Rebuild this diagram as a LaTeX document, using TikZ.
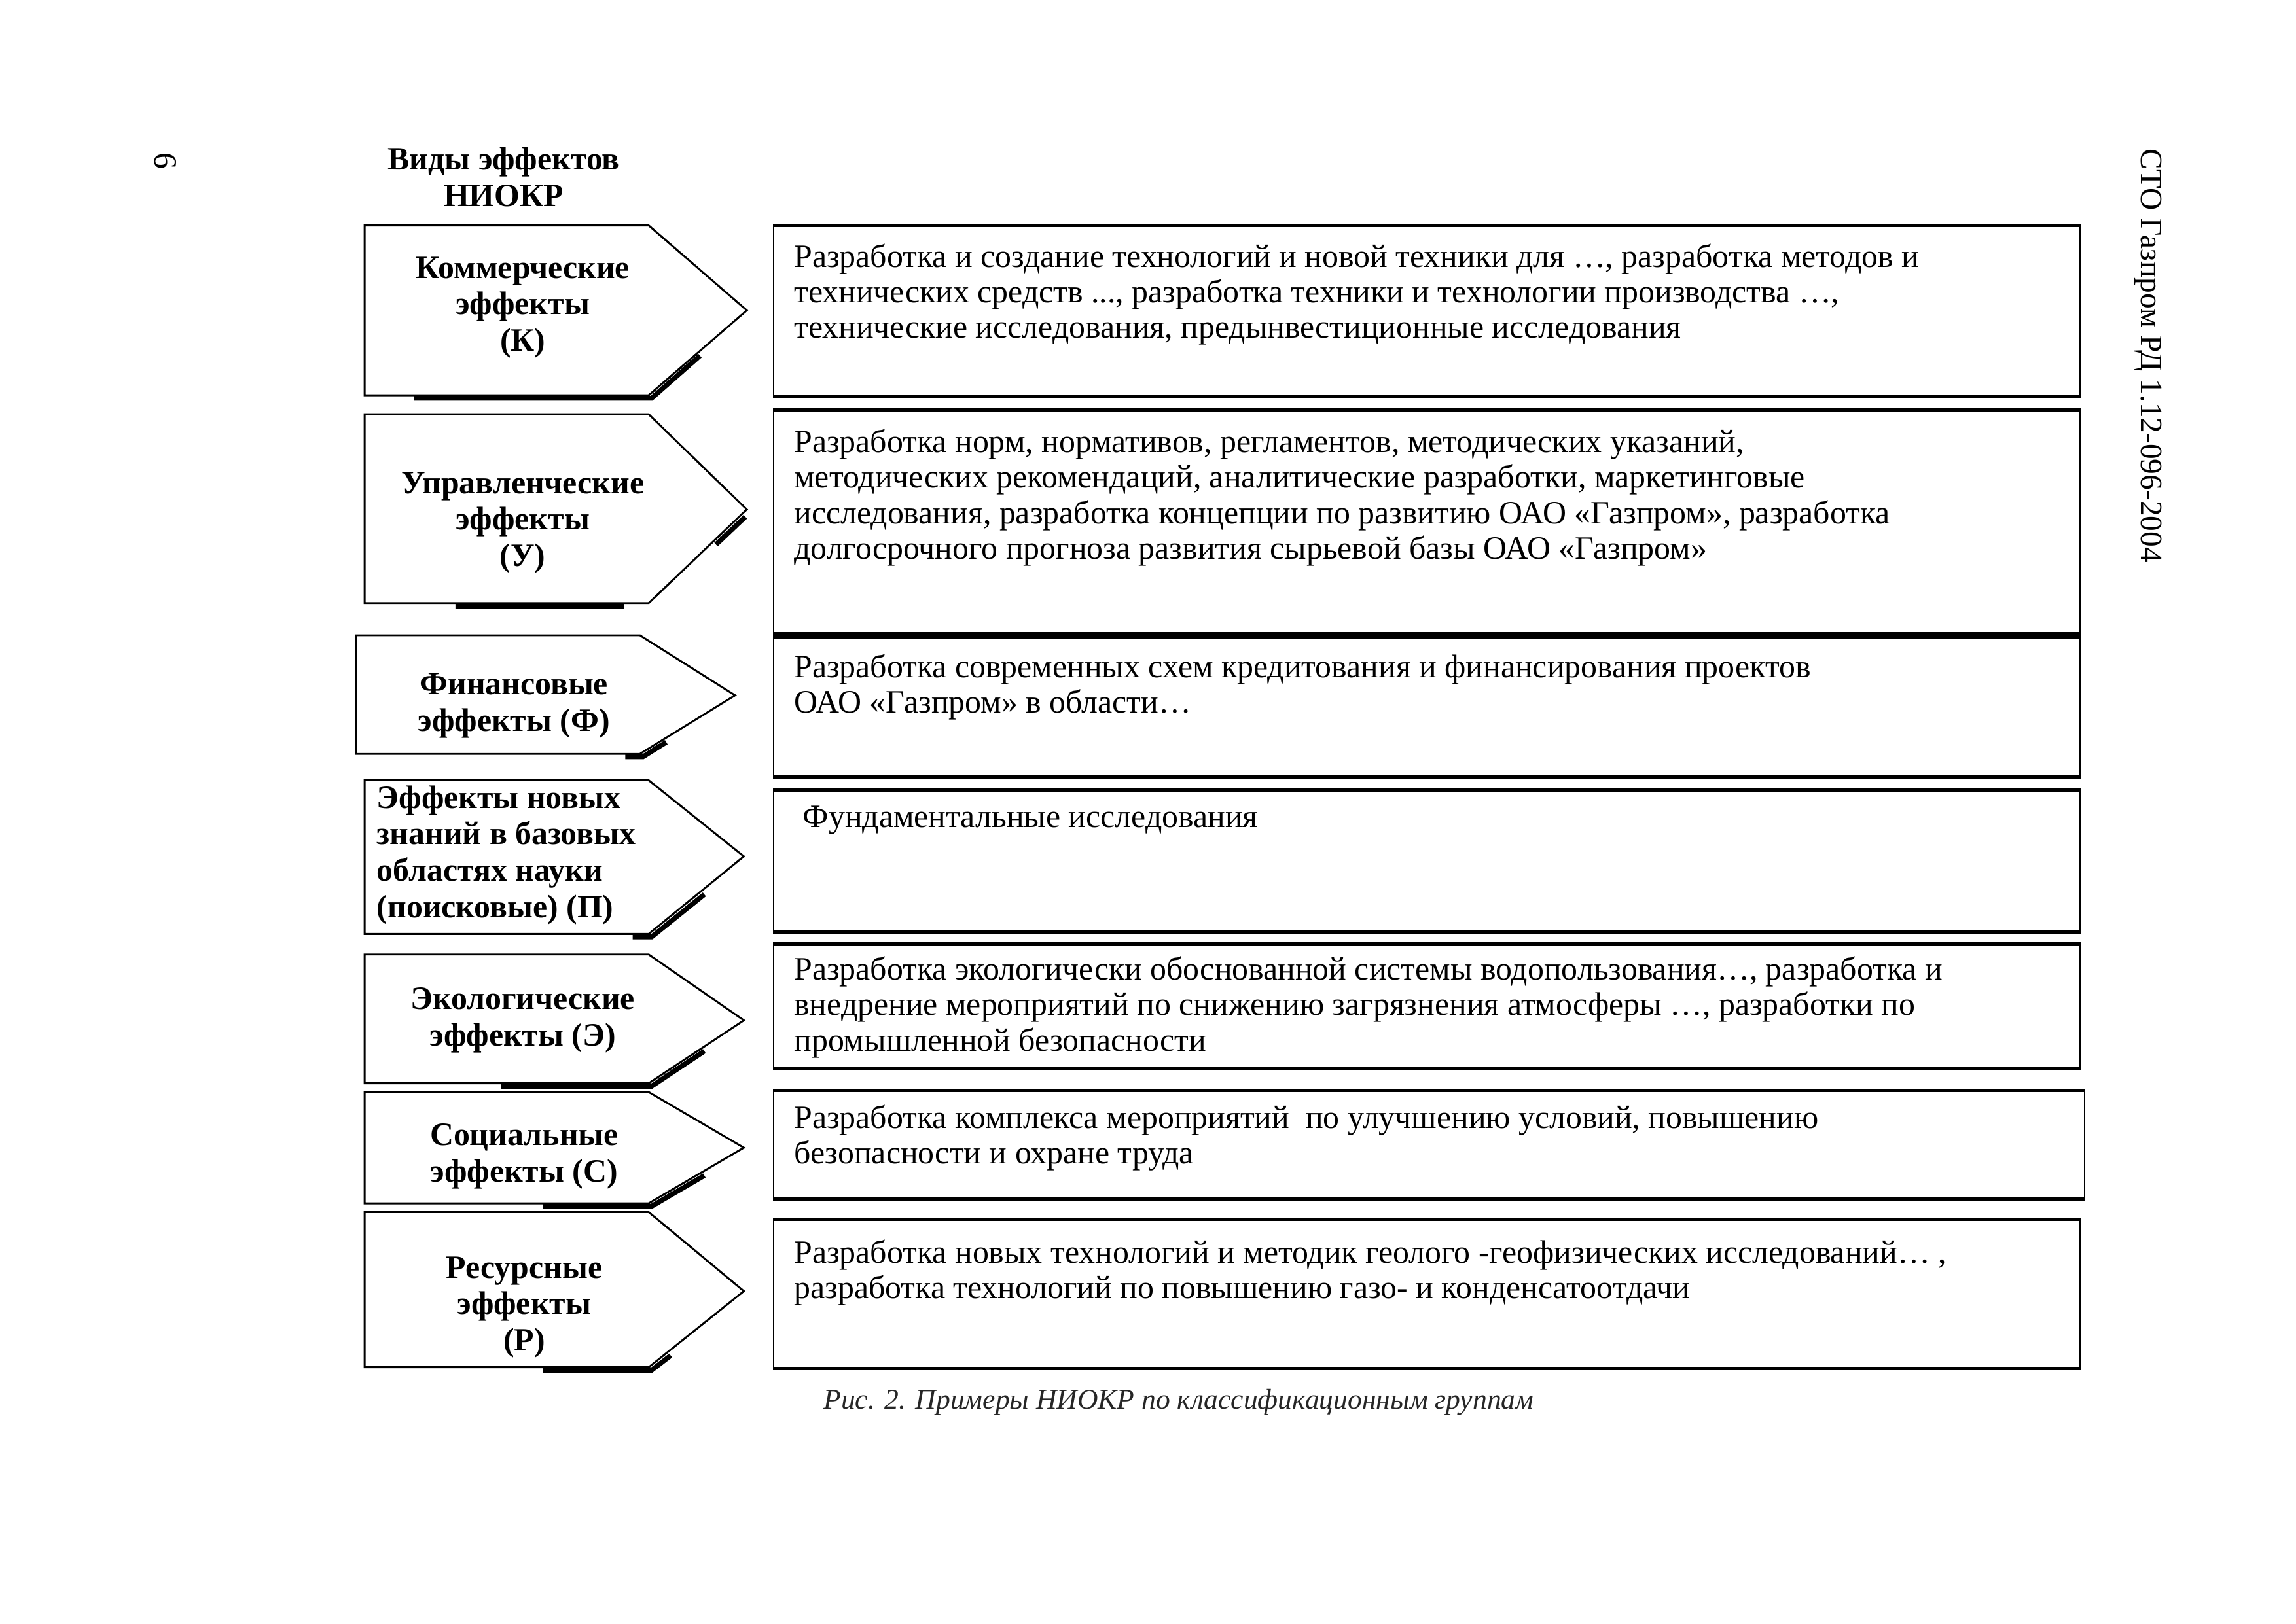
\documentclass[tikz,border=0pt]{standalone}
\usepackage{fontspec}
\setmainfont{Liberation Serif}
\usetikzlibrary{positioning}
\def\pxu{0.018941cm}

\begin{document}
\begin{tikzpicture}[
    x=0.018941cm, y=-0.018941cm,
    effshape/.style={draw,fill=white,line width=0.7pt,line join=miter},
    effshadow/.style={line width=1.8pt,shift={(2,2)}},
    efftext/.style={font=\bfseries\fontsize{12}{13.4}\selectfont,align=center,inner sep=0pt},
    descbox/.style={draw,line width=0.5pt,anchor=north west,inner sep=0pt,minimum width=892*\pxu},
    descedge/.style={line width=1.3pt},
    desctext/.style={font=\fontsize{12}{13.1}\selectfont,align=left,anchor=base west,inner sep=0pt}
]
\useasboundingbox[fill=white] (0,0) rectangle (1568,1109);

% page header
\node[rotate=-90,font=\fontsize{12}{14}\selectfont] (pagenum) at (113,110) {6};
\node[rotate=-90,font=\fontsize{11.4}{14}\selectfont] (stdname) at (1467,243) {СТО Газпром РД 1.12-096-2004};
\node[efftext] (head) at (344,121) {Виды эффектов\\НИОКР};

% shadows of the effect shapes
\draw[effshadow] (281,270) -- (443,270) -- (476,241);
\draw[effshadow] (309,412) -- (424,412) (507,351) -- (487,370);
\draw[effshadow] (425,515) -- (437,515) -- (453,505);
\draw[effshadow] (430,638) -- (443,638) -- (479,609);
\draw[effshadow] (340,740) -- (443,740) -- (479,716);
\draw[effshadow] (369,822) -- (443,822) -- (479,801);
\draw[effshadow] (369,934) -- (443,934) -- (456,924);

% effect shapes
\draw[effshape] (249,154) -- (443,154) -- (510,212) -- (443,270) -- (249,270) -- cycle;
\draw[effshape] (249,283) -- (443,283) -- (510,348) -- (443,412) -- (249,412) -- cycle;
\draw[effshape] (243,434) -- (437,434) -- (502,475) -- (437,515) -- (243,515) -- cycle;
\draw[effshape] (249,533) -- (443,533) -- (508,585) -- (443,638) -- (249,638) -- cycle;
\draw[effshape] (249,652) -- (443,652) -- (508,697) -- (443,740) -- (249,740) -- cycle;
\draw[effshape] (249,746) -- (443,746) -- (508,784) -- (443,822) -- (249,822) -- cycle;
\draw[effshape] (249,828) -- (443,828) -- (508,882) -- (443,934) -- (249,934) -- cycle;

\node[efftext] (ek) at (357,210) {Коммерческие\\эффекты\\(К)};
\node[efftext] (eu) at (357,357) {Управленческие\\эффекты\\(У)};
\node[efftext] (ef) at (351,482) {Финансовые\\эффекты (Ф)};
\node[efftext,align=left,anchor=west] (ep) at (257,584) {Эффекты новых\\знаний в базовых\\областях науки\\(поисковые) (П)};
\node[efftext] (ee) at (357,697) {Экологические\\эффекты (Э)};
\node[efftext] (es) at (358,790) {Социальные\\эффекты (С)};
\node[efftext] (er) at (358,893) {Ресурсные\\эффекты\\(Р)};

% description boxes
\node[descbox,minimum height=116*\pxu] (d1) at (528,154) {};
\node[descbox,minimum height=152*\pxu] (d2) at (528,280) {};
\node[descbox,minimum height=95*\pxu] (d3) at (528,435) {};
\node[descbox,minimum height=96*\pxu] (d4) at (528,540) {};
\node[descbox,minimum height=84*\pxu] (d5) at (528,645) {};
\node[descbox,minimum height=73*\pxu,minimum width=895*\pxu] (d6) at (528,745) {};
\node[descbox,minimum height=101*\pxu] (d7) at (528,833) {};
\foreach \n in {d1,d2,d3,d4,d5,d6,d7}
  \draw[descedge] (\n.north west) -- (\n.north east) (\n.south west) -- (\n.south east);

% texts: anchored at the baseline of their last line
\node[desctext] (t1) at (542,231) {Разработка и создание технологий и новой техники для …, разработка методов и\\технических средств ..., разработка техники и технологии производства …,\\технические исследования, предынвестиционные исследования};
\node[desctext] (t2) at (542,382) {Разработка норм, нормативов, регламентов, методических указаний,\\методических рекомендаций, аналитические разработки, маркетинговые\\исследования, разработка концепции по развитию ОАО «Газпром», разработка\\долгосрочного прогноза развития сырьевой базы ОАО «Газпром»};
\node[desctext] (t3) at (542,487) {Разработка современных схем кредитования и финансирования проектов\\ОАО «Газпром» в области…};
\node[desctext] (t4) at (548,565) {Фундаментальные исследования};
\node[desctext] (t5) at (542,718) {Разработка экологически обоснованной системы водопользования…, разработка и\\внедрение мероприятий по снижению загрязнения атмосферы …, разработки по\\промышленной безопасности};
\node[desctext] (t6) at (542,795) {Разработка комплекса мероприятий\ \ по улучшению условий, повышению\\безопасности и охране труда};
\node[desctext] (t7) at (542,887) {Разработка новых технологий и методик геолого -геофизических исследований… ,\\разработка технологий по повышению газо- и конденсатоотдачи};

% caption
\node[font=\itshape\fontsize{10.5}{14}\selectfont,text=black!85] (caption) at (805,958) {Рис. 2. Примеры НИОКР по классификационным группам};
\end{tikzpicture}
\end{document}
